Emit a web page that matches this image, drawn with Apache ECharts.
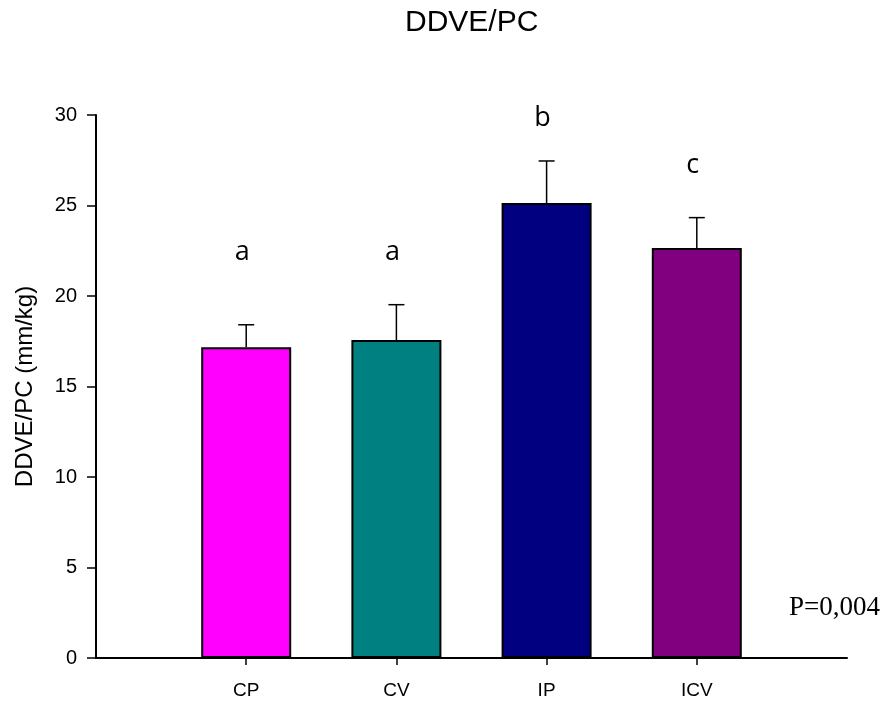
<!DOCTYPE html>
<html>
<head>
<meta charset="utf-8">
<script src="https://cdn.jsdelivr.net/npm/echarts@6/dist/echarts.min.js"></script>
<style>html,body{margin:0;padding:0;background:#fff}#c{width:887px;height:702px}</style>
</head>
<body>
<div id="c"></div>
<script>
var categories = ['', 'CP', 'CV', 'IP', 'ICV', ''];
var means = [null, 17.17, 17.57, 25.14, 22.65, null];
var errTops = [null, 18.41, 19.52, 27.46, 24.33, null];
var letters = ['', 'a', 'a', 'b', 'c', ''];
var letterY = [null, 22.4, 22.4, 29.8, 27.2, null];
var colors = ['#ff00ff', '#ff00ff', '#008080', '#000080', '#800080', '#800080'];
var yTicks = [0, 5, 10, 15, 20, 25, 30];

var chart = echarts.init(document.getElementById('c'), null, {renderer: 'canvas'});

var barData = means.map(function (v, i) {
  return v == null ? null : {value: v, itemStyle: {color: colors[i]}};
});
var errData = [];
var letterData = [];
for (var i = 0; i < categories.length; i++) {
  if (means[i] != null) {
    errData.push([i, means[i], errTops[i]]);
    letterData.push([i, letterY[i], letters[i]]);
  }
}

chart.setOption({
  animation: false,
  grid: {left: 96, right: 40, top: 115, bottom: 44},
  graphic: [
    {type: 'text', left: 405, top: 8, style: {text: 'DDVE/PC', font: '30px "Liberation Sans", Arial, sans-serif', fill: '#000'}},
    {type: 'text', left: 789, top: 594, style: {text: 'P=0,004', font: '27px "Liberation Serif", "Times New Roman", serif', fill: '#000'}}
  ],
  xAxis: {
    type: 'category',
    data: categories,
    boundaryGap: false,
    axisLine: {lineStyle: {color: '#000', width: 2}},
    axisTick: {interval: function (idx, val) { return val !== ''; }, length: 7, lineStyle: {color: '#000', width: 1.5}},
    axisLabel: {interval: function (idx, val) { return val !== ''; }, margin: 23, color: '#000', fontSize: 19, fontFamily: '"Liberation Sans", Arial, sans-serif'},
    splitLine: {show: false}
  },
  yAxis: {
    type: 'value',
    min: 0, max: 30, interval: 5,
    name: 'DDVE/PC (mm/kg)',
    nameLocation: 'middle',
    nameGap: 59,
    nameTextStyle: {color: '#000', fontSize: 24, fontFamily: '"Liberation Sans", Arial, sans-serif'},
    axisLine: {show: true, lineStyle: {color: '#000', width: 2}},
    axisTick: {show: true, length: 9, lineStyle: {color: '#000', width: 1.5}},
    axisLabel: {margin: 19, color: '#000', fontSize: 20, fontFamily: '"Liberation Sans", Arial, sans-serif',
      formatter: function (v) { return yTicks.indexOf(v) >= 0 ? String(v) : ''; }},
    splitLine: {show: false}
  },
  series: [
    {
      type: 'bar',
      data: barData,
      barWidth: 90,
      itemStyle: {borderColor: '#000', borderWidth: 2},
      z: 2
    },
    {
      type: 'custom',
      data: errData,
      encode: {x: 0, y: 2},
      z: 1,
      renderItem: function (params, api) {
        var x = api.value(0);
        var p0 = api.coord([x, api.value(1)]);
        var p1 = api.coord([x, api.value(2)]);
        return {
          type: 'group',
          children: [
            {type: 'line', shape: {x1: p0[0], y1: p0[1], x2: p1[0], y2: p1[1]}, style: {stroke: '#000', lineWidth: 1.5}},
            {type: 'line', shape: {x1: p1[0] - 8, y1: p1[1], x2: p1[0] + 8, y2: p1[1]}, style: {stroke: '#000', lineWidth: 1.5}}
          ]
        };
      }
    },
    {
      type: 'custom',
      data: letterData,
      encode: {x: 0, y: 1},
      renderItem: function (params, api) {
        var p = api.coord([api.value(0), api.value(1)]);
        return {
          type: 'text',
          x: p[0] - 4, y: p[1],
          style: {text: letterData[params.dataIndex][2], font: '27px "Open Sans", "DejaVu Sans", sans-serif', fill: '#000', align: 'center', verticalAlign: 'middle'}
        };
      }
    }
  ]
});
</script>
</body>
</html>
